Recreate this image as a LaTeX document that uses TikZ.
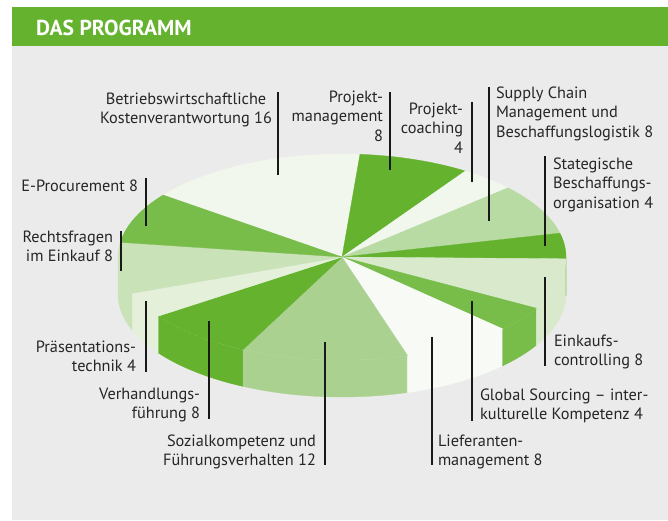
\documentclass[tikz,border=0pt]{standalone}
\usepackage{fontspec}
\setmainfont{PT Sans}
\definecolor{hdrgreen}{HTML}{64B22E}
\definecolor{bggrey}{HTML}{EBEBEB}
\definecolor{labtext}{HTML}{262626}
\definecolor{cBW}{HTML}{F1F7EC}
\definecolor{cPM}{HTML}{64B22E}
\definecolor{cPC}{HTML}{F1F7EC}
\definecolor{cSC}{HTML}{B8DBA4}
\definecolor{cST}{HTML}{64B22E}
\definecolor{cEC}{HTML}{D9EACC}
\definecolor{cGS}{HTML}{78BC4A}
\definecolor{cLM}{HTML}{F8FBF5}
\definecolor{cSK}{HTML}{AAD18F}
\definecolor{cVF}{HTML}{64B22E}
\definecolor{cPT}{HTML}{E4F0DA}
\definecolor{cRF}{HTML}{C9E2B8}
\definecolor{cEP}{HTML}{78BC4A}
\def\cx{342}
\def\cy{257}
\def\rx{224}
\def\ry{103}
\def\dep{37}
\newcommand\pietop[3]{\fill[fill=#1,draw=#1,line width=0.3pt] (pc) -- plot[domain=#2:#3, samples=40] ({\cx+\rx*cos(\x)},{\cy-\ry*sin(\x)}) -- cycle;}
\newcommand\piewall[3]{\fill[fill=#1,draw=#1,line width=0.3pt] plot[domain=#2:#3, samples=30] ({\cx+\rx*cos(\x)},{\cy-\ry*sin(\x)}) -- plot[domain=#3:#2, samples=30] ({\cx+\rx*cos(\x)},{\cy+\dep-\ry*sin(\x)}) -- cycle;}
\begin{document}
\begin{tikzpicture}[x=1pt,y=-1pt,
  lab/.style={inner sep=0pt, outer sep=0pt, text=labtext, font=\fontsize{16.3}{19.5}\selectfont},
  labr/.style={lab, anchor=north east, align=right},
  labl/.style={lab, anchor=north west, align=left},
  labc/.style={lab, anchor=north, align=center},
  leader/.style={line width=1.8pt, black!90}]
\useasboundingbox (0,0) rectangle (668,520);
\fill[white] (0,0) rectangle (668,520);
\fill[bggrey] (12,45.5) rectangle (668,520);
\fill[hdrgreen] (12,7) rectangle (668,45.5);
\node[anchor=base west, inner sep=0pt, text=white, font=\bfseries\fontsize{21.6}{24}\selectfont] (title) at (36,35) {DAS PROGRAMM};
% pie
\coordinate (pc) at (\cx,\cy);
% walls
\piewall{cRF}{-180}{-159.4}
\piewall{cPT}{-159.4}{-145}
\piewall{cVF}{-145}{-116.2}
\piewall{cSK}{-116.2}{-73}
\piewall{cLM}{-73}{-44.2}
\piewall{cGS}{-44.2}{-29.8}
\piewall{cEC}{-29.8}{-1}
\piewall{cST}{-1}{0}
\draw[white, opacity=0.55, line width=0.5pt, dash pattern=on 2pt off 2pt] plot[domain=-180:0, samples=80] ({\cx+\rx*cos(\x)},{\cy-\ry*sin(\x)});
% tops
\pietop{cBW}{143}{85.4}
\pietop{cPM}{85.4}{56.6}
\pietop{cPC}{56.6}{42.2}
\pietop{cSC}{42.2}{13.4}
\pietop{cST}{13.4}{-1}
\pietop{cEC}{-1}{-29.8}
\pietop{cGS}{-29.8}{-44.2}
\pietop{cLM}{-44.2}{-73}
\pietop{cSK}{-73}{-116.2}
\pietop{cVF}{-116.2}{-145}
\pietop{cPT}{-145}{-159.4}
\pietop{cRF}{-159.4}{-188.2}
\pietop{cEP}{-188.2}{-217}
% labels
\node[labc] (tBW) at (186,90.35) {\strut Betriebswirtschaftliche\\Kostenverantwortung 16};
\node[labr] (tPM) at (383,88.35) {\strut Projekt-\\management\\8};
\node[labr] (tPC) at (463,100.35) {\strut Projekt-\\coaching\\4};
\node[labl] (tSC) at (496,84.35) {\strut Supply Chain\\Management und\\Beschaffungslogistik 8};
\node[labl] (tST) at (553,155.35) {\strut Stategische\\Beschaffungs-\\organisation 4};
\node[labl] (tEC) at (554,332.35) {\strut Einkaufs-\\controlling 8};
\node[labl] (tGS) at (480,386.35) {\strut Global Sourcing – inter-\\kulturelle Kompetenz 4};
\node[labl] (tLM) at (438,432.35) {\strut Lieferanten-\\management 8};
\node[labr] (tSK) at (316,432.35) {\strut Sozialkompetenz und\\Führungsverhalten 12};
\node[labr] (tVF) at (200,385.35) {\strut Verhandlungs-\\führung 8};
\node[labr] (tPT) at (136,338.35) {\strut Präsentations-\\technik 4};
\node[labr] (tRF) at (113,228.35) {\strut Rechtsfragen\\im Einkauf 8};
\node[labr] (tEP) at (138,177.35) {\strut E-Procurement 8};
% leader lines
\coordinate (aBW) at (278,92);  \coordinate (bBW) at (278,175);
\coordinate (aPM) at (390,92);  \coordinate (bPM) at (390,170);
\coordinate (aPC) at (472,102); \coordinate (bPC) at (472,182);
\coordinate (aSC) at (489,87);  \coordinate (bSC) at (489,221);
\coordinate (aST) at (545,156); \coordinate (bST) at (545,246);
\coordinate (aEC) at (545,277); \coordinate (bEC) at (545,366);
\coordinate (aGS) at (472,301); \coordinate (bGS) at (472,421);
\coordinate (aLM) at (432,337); \coordinate (bLM) at (432,465);
\coordinate (aSK) at (325,342); \coordinate (bSK) at (325,465);
\coordinate (aVF) at (209,321); \coordinate (bVF) at (209,419);
\coordinate (aPT) at (146,301); \coordinate (bPT) at (146,372);
\coordinate (aRF) at (121,231); \coordinate (bRF) at (121,271);
\coordinate (aEP) at (146,178); \coordinate (bEP) at (146,226);
\foreach \n in {BW,PM,PC,SC,ST,EC,GS,LM,SK,VF,PT,RF,EP}{\draw[leader] (a\n) -- (b\n);}
\end{tikzpicture}
\end{document}
